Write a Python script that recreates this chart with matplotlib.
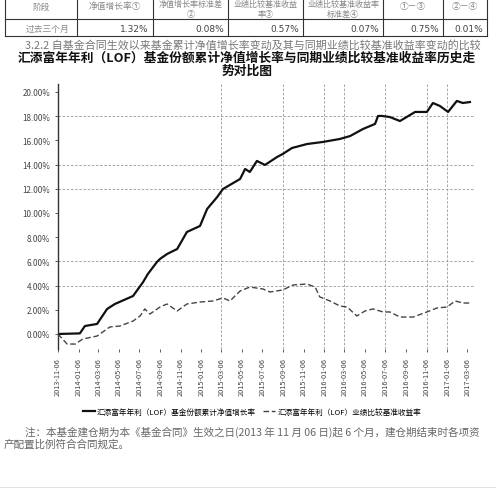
import matplotlib
matplotlib.use("Agg")
import matplotlib.pyplot as plt
import numpy as np
import pandas as pd

plt.rcParams['font.family'] = ['Noto Sans CJK SC', 'DejaVu Sans']

# ---- table values ----
header_cells = [["阶段"], ["净值增长率①"], ["净值增长率标准差", "②"],
                ["业绩比较基准收益", "率③"], ["业绩比较基准收益率", "标准差④"],
                ["①－③"], ["②－④"]]
row_label = "过去三个月"
row_values = ["1.32%", "0.08%", "0.57%", "0.07%", "0.75%", "0.01%"]

# ---- chart values (days since contract start, % cumulative return) ----
start_date = pd.Timestamp("2013-11-06")
fund_days = [0, 65, 80, 116, 146, 169, 223, 253, 267, 294, 303, 324, 342, 354,
             383, 422, 443, 473, 490, 541, 556, 570, 591, 615, 651, 668, 695,
             740, 787, 838, 868, 906, 942, 951, 963, 986, 1016, 1061, 1096,
             1114, 1135, 1159, 1185, 1203, 1224]
fund_vals = [0.00, 0.05, 0.66, 0.83, 2.07, 2.48, 3.14, 4.30, 4.96, 5.95, 6.20,
             6.61, 6.86, 7.02, 8.43, 8.93, 10.33, 11.32, 11.98, 12.81, 13.64,
             13.39, 14.30, 13.97, 14.63, 14.88, 15.37, 15.70, 15.87, 16.12,
             16.36, 16.94, 17.36, 18.02, 18.02, 17.93, 17.60, 18.35, 18.35,
             19.09, 18.84, 18.35, 19.26, 19.09, 19.17]
bench_days = [0, 27, 51, 74, 116, 154, 184, 223, 244, 258, 273, 303, 324, 354,
              383, 422, 461, 490, 511, 541, 570, 609, 630, 668, 698, 740, 764,
              778, 808, 838, 859, 888, 912, 936, 966, 986, 1016, 1055, 1096,
              1126, 1156, 1180, 1203, 1224]
bench_vals = [0.00, -0.83, -0.83, -0.41, -0.17, 0.58, 0.66, 1.07, 1.49, 2.07,
              1.65, 2.23, 2.48, 1.90, 2.48, 2.64, 2.73, 2.98, 2.73, 3.55, 3.88,
              3.72, 3.47, 3.64, 4.05, 4.13, 3.88, 3.06, 2.73, 2.31, 2.23, 1.49,
              1.90, 2.07, 1.82, 1.82, 1.40, 1.40, 1.82, 2.15, 2.23, 2.73, 2.56,
              2.56]
x_tick_labels = ["2013-11-06", "2014-01-06", "2014-03-06", "2014-05-06",
                 "2014-07-06", "2014-09-06", "2014-11-06", "2015-01-06",
                 "2015-03-06", "2015-05-06", "2015-07-06", "2015-09-06",
                 "2015-11-06", "2016-01-06", "2016-03-06", "2016-05-06",
                 "2016-07-06", "2016-09-06", "2016-11-06", "2017-01-06",
                 "2017-03-06"]
y_ticks = [0, 2, 4, 6, 8, 10, 12, 14, 16, 18, 20]
y_grid = [4, 6, 12, 14, 18]
x_grid_idx = [8, 11, 13, 14, 16, 18, 19]

fund_name = "汇添富年年利（LOF）"
legend_labels = [fund_name + "基金份额累计净值增长率", fund_name + "业绩比较基准收益率"]

fig = plt.figure(figsize=(4.96, 5.02), dpi=100)

# page overlay in pixel coordinates
page = fig.add_axes([0, 0, 1, 1])
page.set_xlim(0, 496)
page.set_ylim(502, 0)
page.axis("off")

# table
col_edges = [5, 77, 153, 228, 303, 383, 443, 487]
for xe in col_edges:
    page.plot([xe, xe], [0, 37], color="#333333", lw=0.8)
for ye in [20, 37]:
    page.plot([col_edges[0], col_edges[-1]], [ye, ye], color="#333333", lw=0.8)
for i, cell in enumerate(header_cells):
    cx = (col_edges[i] + col_edges[i + 1]) / 2
    if len(cell) == 1:
        page.text(cx, 7, cell[0], ha="center", va="center", fontsize=6.3, color="#888888")
    else:
        page.text(cx, 4.5, cell[0], ha="center", va="center", fontsize=5.8, color="#888888")
        page.text(cx, 14, cell[1], ha="center", va="center", fontsize=5.8, color="#888888")
page.text(48, 29, row_label, ha="center", va="center", fontsize=6.3, color="#888888")
for i, v in enumerate(row_values):
    page.text(col_edges[i + 2] - 4, 29, v, ha="right", va="center", fontsize=6.5,
              color="#444444", family=["Liberation Sans Narrow", "DejaVu Sans"])

page.text(25, 45, "3.2.2 自基金合同生效以来基金累计净值增长率变动及其与同期业绩比较基准收益率变动的比较",
          ha="left", va="center", fontsize=7.9, color="#777777")
page.text(247, 58, fund_name + "基金份额累计净值增长率与同期业绩比较基准收益率历史走",
          ha="center", va="center", fontsize=9.2, fontweight="bold", color="#111111")
page.text(247, 71, "势对比图", ha="center", va="center", fontsize=9.2,
          fontweight="bold", color="#111111")

page.text(25, 432, "注：本基金建仓期为本《基金合同》生效之日(2013 年 11 月 06 日)起 6 个月，建仓期结束时各项资",
          ha="left", va="center", fontsize=7.6, color="#666666")
page.text(4, 445, "产配置比例符合合同规定。", ha="left", va="center", fontsize=7.6, color="#666666")
page.plot([0, 496], [488, 488], color="#dddddd", lw=0.6)

# chart
ax = fig.add_axes([58 / 496, 1 - 350 / 502, (475 - 58) / 496, (350 - 85) / 502])
fund_dates = start_date + pd.to_timedelta(fund_days, unit="D")
bench_dates = start_date + pd.to_timedelta(bench_days, unit="D")
tick_dates = pd.to_datetime(x_tick_labels)

ax.plot(fund_dates, fund_vals, color="#111111", lw=1.6, label=legend_labels[0])
ax.plot(bench_dates, bench_vals, color="#444444", lw=1.0, ls=(0, (4, 2)),
        label=legend_labels[1])

for g in y_grid:
    ax.axhline(g, color="#999999", lw=0.6, ls=(0, (3, 2)), zorder=0)
for gi in x_grid_idx:
    ax.axvline(tick_dates[gi], color="#999999", lw=0.6, ls=(0, (3, 2)), zorder=0)

ax.set_xlim(start_date, start_date + pd.Timedelta(days=1239))
ax.set_ylim(-1.24, 20.66)
ax.set_yticks(y_ticks)
ax.set_yticklabels([f"{t:.2f}%" for t in y_ticks], fontsize=5.8, color="#444444")
ax.set_xticks(tick_dates)
ax.set_xticklabels(x_tick_labels, rotation=90, fontsize=5.3, color="#444444")
ax.tick_params(axis="both", length=2, width=0.6, colors="#444444")
for s in ["top", "right", "bottom"]:
    ax.spines[s].set_visible(False)
ax.spines["left"].set_color("#333333")
ax.spines["left"].set_linewidth(1.0)
ax.patch.set_alpha(0)

ax.legend(loc="center", bbox_to_anchor=(252 / 496, 1 - 413 / 502),
          bbox_transform=fig.transFigure, ncol=2, frameon=False, fontsize=5.5,
          handlelength=1.5, columnspacing=1.0, handletextpad=0.3)

fig.savefig("out.png", dpi=100)
